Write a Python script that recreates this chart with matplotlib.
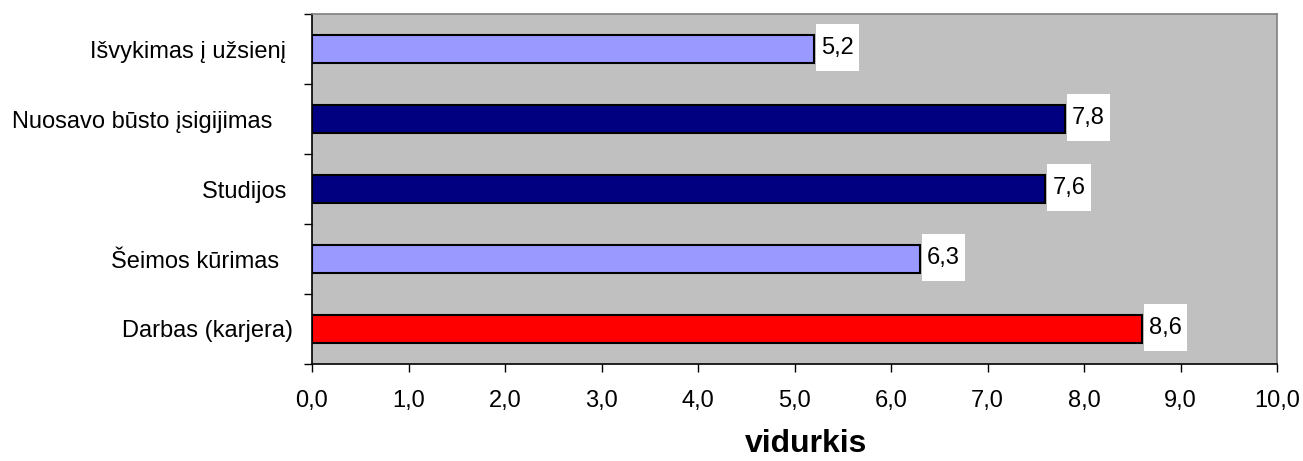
import matplotlib
matplotlib.use("Agg")
import matplotlib.pyplot as plt
from matplotlib.patches import Rectangle
import numpy as np

categories = ["Darbas (karjera)", "Šeimos kūrimas  ", "Studijos ", "Nuosavo būsto įsigijimas   ", "Išvykimas į užsienį "]
values = [8.6, 6.3, 7.6, 7.8, 5.2]
colors = ["#FF0000", "#9999FF", "#000080", "#000080", "#9999FF"]
xticks = [0, 1, 2, 3, 4, 5, 6, 7, 8, 9, 10]

plt.rcParams['font.family'] = ['Liberation Sans', 'DejaVu Sans']

fig = plt.figure(figsize=(13.03, 4.61), dpi=100)
ax = fig.add_axes([312/1303, 1 - 364/461, (1277-312)/1303, (364-14)/461])
ax.set_facecolor("#C0C0C0")

y = np.arange(len(categories))
ax.barh(y, values, height=0.4, color=colors, edgecolor="black", linewidth=1.5, zorder=3)

# value labels on white boxes
bw, bh, gap = 0.45, 0.67, 0.02
for yi, v in zip(y, values):
    ax.add_patch(Rectangle((v + gap, yi - bh/2 + 0.02), bw, bh, facecolor="white",
                           edgecolor="none", zorder=4))
    ax.text(v + gap + bw/2, yi + 0.02, ("%.1f" % v).replace(".", ","), va="center",
            ha="center", fontsize=17, zorder=5)

ax.set_xlim(0, 10)
ax.set_ylim(-0.5, len(categories) - 0.5)
ax.set_xticks(xticks)
ax.set_xticklabels([("%.1f" % t).replace(".", ",") for t in xticks], fontsize=17)
ax.set_yticks(y)
ax.set_yticklabels(categories, fontsize=17)
ax.set_yticks(np.arange(-0.5, len(categories)), minor=True)
ax.tick_params(axis="y", which="major", length=0, pad=14)
ax.tick_params(axis="y", which="minor", length=6, width=1)
ax.tick_params(axis="x", which="major", length=6, width=1, pad=13)

ax.spines["top"].set_color("#808080")
ax.spines["right"].set_color("#808080")
ax.spines["left"].set_color("black")
ax.spines["bottom"].set_color("black")
for s in ax.spines.values():
    s.set_linewidth(1.2)

fig.text(806/1303, 1 - 452/461, "vidurkis", fontsize=23, fontweight="bold",
         ha="center", va="baseline")

plt.savefig("out.png", dpi=100)
